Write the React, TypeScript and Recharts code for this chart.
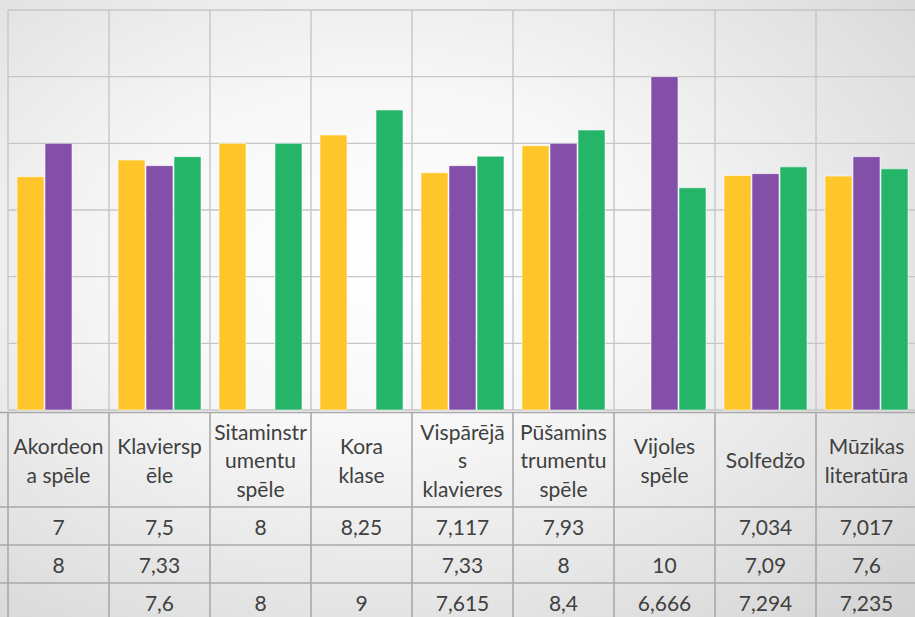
import React from "react";
import { BarChart, Bar, XAxis, YAxis, CartesianGrid } from "recharts";

const categories = [
  "Akordeon\na spēle",
  "Klaviersp\nēle",
  "Sitaminstr\numentu\nspēle",
  "Kora\nklase",
  "Vispārējā\ns\nklavieres",
  "Pūšamins\ntrumentu\nspēle",
  "Vijoles\nspēle",
  "Solfedžo",
  "Mūzikas\nliteratūra",
];
const yellowValues: (number | null)[] = [7, 7.5, 8, 8.25, 7.117, 7.93, null, 7.034, 7.017];
const purpleValues: (number | null)[] = [8, 7.33, null, null, 7.33, 8, 10, 7.09, 7.6];
const greenValues: (number | null)[] = [null, 7.6, 8, 9, 7.615, 8.4, 6.666, 7.294, 7.235];
const yTicks = [0, 2, 4, 6, 8, 10, 12];

const data = categories.map((c, i) => ({
  name: c,
  s1: yellowValues[i],
  s2: purpleValues[i],
  s3: greenValues[i],
}));
const seriesValues = [yellowValues, purpleValues, greenValues];

const CHART_W = 917;
const CHART_H = 617;
const AXIS_H = 207;
const MARGIN = { top: 10, right: 0, left: 8, bottom: 0 };
const BAND = (CHART_W - MARGIN.left - MARGIN.right) / categories.length;
const PLOT_BOTTOM = CHART_H - AXIS_H;
const TABLE_TOP = PLOT_BOTTOM + 2.5;
const ROW_TOPS = [507, 545, 583];
const ROW_H = 38;
const LINE_H = 28.5;
const FONT = "Lato, 'Open Sans', sans-serif";
const TEXT_COLOR = "#404040";
const TABLE_LINE = "#a9a9a9";
const GRID_LINE = "#c6c6c6";

const fmt = (v: number | null) => (v == null ? "" : String(v).replace(".", ","));

const TableTick = (props: any) => {
  const { x, payload } = props;
  const i: number = payload.index ?? props.index ?? 0;
  const half = BAND / 2;
  const left = x - half;
  const right = x + half;
  const lines = String(payload.value).split("\n");
  const headerCenter = (TABLE_TOP + ROW_TOPS[0]) / 2;
  const startY = headerCenter - ((lines.length - 1) * LINE_H) / 2;
  const hLeft = i === 0 ? 0 : left;
  return (
    <g>
      <line x1={hLeft} x2={right} y1={TABLE_TOP} y2={TABLE_TOP} stroke={TABLE_LINE} strokeWidth={1.6} />
      {ROW_TOPS.map((ry) => (
        <line key={ry} x1={hLeft} x2={right} y1={ry} y2={ry} stroke={TABLE_LINE} strokeWidth={1.6} />
      ))}
      <line x1={left} x2={left} y1={TABLE_TOP} y2={CHART_H} stroke={TABLE_LINE} strokeWidth={1.6} />
      {i === categories.length - 1 && (
        <line x1={right} x2={right} y1={TABLE_TOP} y2={CHART_H} stroke={TABLE_LINE} strokeWidth={1.6} />
      )}
      {lines.map((ln, k) => (
        <text
          key={k}
          x={x}
          y={startY + k * LINE_H}
          textAnchor="middle"
          dominantBaseline="central"
          fontFamily={FONT}
          fontSize={21}
          fill={TEXT_COLOR}
        >
          {ln}
        </text>
      ))}
      {seriesValues.map((vals, r) => (
        <text
          key={"v" + r}
          x={x}
          y={ROW_TOPS[r] + ROW_H / 2}
          textAnchor="middle"
          dominantBaseline="central"
          fontFamily={FONT}
          fontSize={21}
          fill={TEXT_COLOR}
        >
          {fmt(vals[i])}
        </text>
      ))}
    </g>
  );
};

export default function App() {
  return (
    <div
      style={{
        position: "absolute",
        left: 0,
        top: 0,
        width: 915,
        height: 617,
        overflow: "hidden",
        background:
          "radial-gradient(ellipse at 42% 42%, #ffffff 0%, #f7f7f7 35%, #e4e4e4 70%, #d2d2d2 100%)",
      }}
    >
      <BarChart width={CHART_W} height={CHART_H} data={data} margin={MARGIN} barSize={27} barGap={1}>
        <CartesianGrid
          stroke={GRID_LINE}
          strokeWidth={1.4}
          verticalCoordinatesGenerator={({ offset }: any) =>
            Array.from({ length: categories.length + 1 }, (_, k) => offset.left + (k * offset.width) / categories.length)
          }
        />
        <XAxis
          dataKey="name"
          axisLine={false}
          tickLine={false}
          interval={0}
          height={AXIS_H}
          tick={<TableTick />}
        />
        <YAxis hide domain={[0, 12]} ticks={yTicks} />
        <Bar dataKey="s1" fill="#FEC62A" stroke="rgba(255,255,255,0.55)" strokeWidth={1} isAnimationActive={false} />
        <Bar dataKey="s2" fill="#834FA9" stroke="rgba(255,255,255,0.55)" strokeWidth={1} isAnimationActive={false} />
        <Bar dataKey="s3" fill="#24B568" stroke="rgba(255,255,255,0.55)" strokeWidth={1} isAnimationActive={false} />
      </BarChart>
    </div>
  );
}
